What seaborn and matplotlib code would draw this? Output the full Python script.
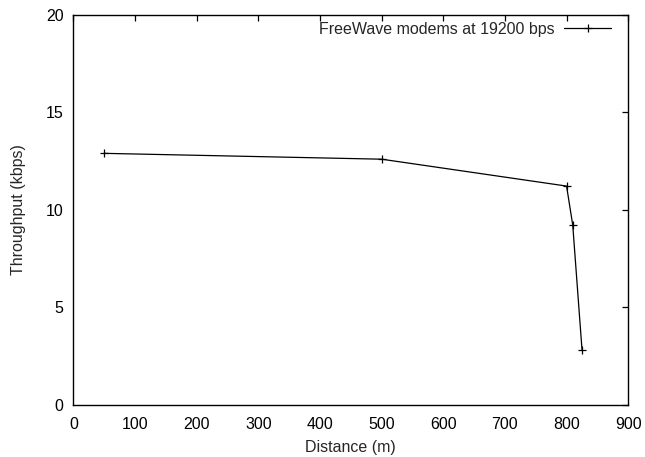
import matplotlib
matplotlib.use("Agg")
import matplotlib.pyplot as plt
import seaborn as sns
import pandas as pd

distance_m = [50, 500, 800, 810, 825]
throughput_kbps = [12.9, 12.6, 11.22, 9.22, 2.83]
series_label = "FreeWave modems at 19200 bps"
x_ticks = [0, 100, 200, 300, 400, 500, 600, 700, 800, 900]
y_ticks = [0, 5, 10, 15, 20]

sns.set_theme(style="white")
plt.rcParams['font.family'] = ['Liberation Sans', 'DejaVu Sans']

df = pd.DataFrame({"Distance (m)": distance_m, "Throughput (kbps)": throughput_kbps})

fs = 11.5
fig = plt.figure(figsize=(6.45, 4.57), dpi=100)
ax = fig.add_axes([0.1137, 0.1144, 0.9740 - 0.1137, 0.9672 - 0.1144])

sns.lineplot(data=df, x="Distance (m)", y="Throughput (kbps)", ax=ax,
             color="black", linewidth=0.9, marker="+", markersize=6,
             markeredgewidth=0.9, markeredgecolor="black", label=series_label)

ax.set_xlim(0, 900)
ax.set_ylim(0, 20)
ax.set_xticks(x_ticks)
ax.set_yticks(y_ticks)
ax.tick_params(direction="in", length=4.5, width=0.9, top=True, right=True,
               labelsize=fs, colors="black", pad=7)
ax.tick_params(axis="x", pad=9)
for s in ax.spines.values():
    s.set_color("black")
    s.set_linewidth(1.0)
ax.set_xlabel("Distance (m)", fontsize=fs)
ax.set_ylabel("Throughput (kbps)", fontsize=fs)
ax.xaxis.set_label_coords(0.5, -0.0906)
ax.yaxis.set_label_coords(-0.0860, 0.5)

leg = ax.legend(loc="center right", bbox_to_anchor=(1.0, 0.964), frameon=False,
                fontsize=fs, markerfirst=False, handlelength=2.9,
                handletextpad=0.63, borderaxespad=0.8, borderpad=0.3)

fig.savefig("out.png", dpi=100)
